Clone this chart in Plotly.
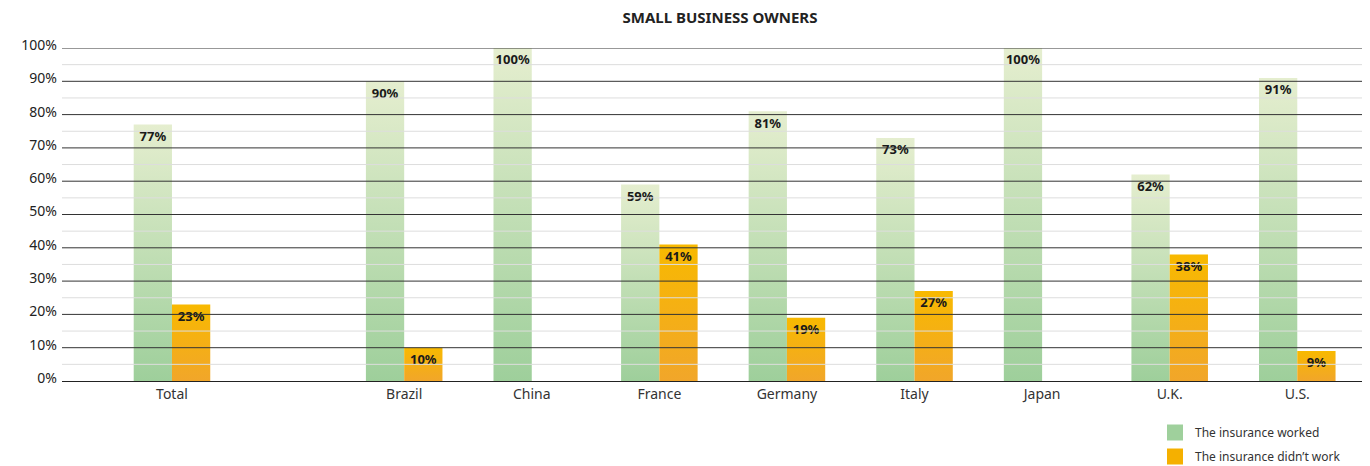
import plotly.graph_objects as go

categories = ["Total", "Brazil", "China", "France", "Germany", "Italy", "Japan", "U.K.", "U.S."]
worked = [77, 90, 100, 59, 81, 73, 100, 62, 91]
didnt_work = [23, 10, 0, 41, 19, 27, 0, 38, 9]
y_ticks = [0, 10, 20, 30, 40, 50, 60, 70, 80, 90, 100]
y_tick_labels = [f"{v}%" for v in y_ticks]
series_names = ["The insurance worked", "The insurance didn\u2019t work"]
title_text = "SMALL BUSINESS OWNERS"

# layout constants (page body has an 8px default margin)
W, H = 1362, 458
ML, MT, MB, MR = 54, 40, 85, 0
PLOT_H = H - MT - MB
GAP_AFTER_TOTAL = 1.82
BAR_W = 0.3
LABEL_OFFSET = 13 * 100 / PLOT_H  # ~13 px below bar top, in axis units
positions = [0.0] + [GAP_AFTER_TOTAL + i for i in range(len(categories) - 1)]

GREEN_SCALE = [[0, "#9ecf9b"], [1, "#e5eecf"]]
ORANGE_SCALE = [[0, "#f1a62a"], [1, "#f8b900"]]
FONT = "Noto Sans"

fig = go.Figure()


def add_bars(values, offset, scale, group, name):
    for p, v in zip(positions, values):
        if v <= 0:
            continue
        x0, x1 = p + offset, p + offset + BAR_W
        fig.add_trace(go.Scatter(
            x=[x0, x1, x1, x0, x0], y=[0, 0, v, v, 0],
            mode="none", fill="toself",
            fillgradient=dict(type="vertical", colorscale=scale, start=0, stop=v),
            showlegend=False, legendgroup=group, hoverinfo="skip",
        ))
    xs = [p + offset + BAR_W / 2 for p, v in zip(positions, values) if v > 0]
    ys = [v for v in values if v > 0]
    fig.add_trace(go.Scatter(
        x=xs, y=[v - LABEL_OFFSET for v in ys], mode="text",
        text=[f"{v}%" for v in ys], customdata=ys,
        textposition="middle center",
        textfont=dict(family=FONT, size=13, color="#1a1a1a", weight="bold"),
        showlegend=False, legendgroup=group,
        hovertemplate=name + ": %{customdata}%<extra></extra>",
    ))


add_bars(worked, -BAR_W, GREEN_SCALE, "worked", series_names[0])
add_bars(didnt_work, 0.0, ORANGE_SCALE, "didnt", series_names[1])

# legend entries
fig.add_trace(go.Scatter(x=[None], y=[None], mode="markers", name=series_names[0],
                         legendgroup="worked",
                         marker=dict(symbol="square", size=18, color="#9fd09c")))
fig.add_trace(go.Scatter(x=[None], y=[None], mode="markers", name=series_names[1],
                         legendgroup="didnt",
                         marker=dict(symbol="square", size=18, color="#f5b000")))

# gridlines above bars
shapes = []
for v in range(5, 100, 10):
    shapes.append(dict(type="line", xref="paper", yref="y", x0=0, x1=1, y0=v, y1=v,
                       line=dict(color="#dddddd", width=1), layer="above"))
for v in y_ticks[1:]:
    shapes.append(dict(type="line", xref="paper", yref="y", x0=0, x1=1, y0=v, y1=v,
                       line=dict(color="#333333", width=1), layer="above"))

fig.update_layout(
    width=W, height=H,
    margin=dict(l=ML, r=MR, t=MT, b=MB, autoexpand=False),
    paper_bgcolor="white", plot_bgcolor="white",
    font=dict(family=FONT, color="#222222"),
    title=dict(text=f"<b>{title_text}</b>", x=712 / W, xanchor="center",
               y=1 - 10 / H, yanchor="middle", xref="container", yref="container",
               font=dict(family=FONT, size=15, color="#222222")),
    shapes=shapes,
    showlegend=True,
    legend=dict(xref="container", yref="container",
                x=1147 / W, y=1 - 410 / H, xanchor="left", yanchor="top",
                tracegroupgap=5,
                font=dict(family=FONT, size=12, color="#333333"),
                bgcolor="rgba(0,0,0,0)", itemclick=False, itemdoubleclick=False),
    xaxis=dict(range=[-0.862, 9.39], tickvals=positions, ticktext=categories,
               showgrid=False, zeroline=False, showline=True, linecolor="#222222",
               linewidth=1, ticks="", automargin=False,
               tickfont=dict(family=FONT, size=14, color="#333333"), fixedrange=True),
    yaxis=dict(range=[0, 100], tickmode="array", tickvals=y_ticks, ticktext=y_tick_labels,
               showgrid=False, zeroline=False, showline=False, ticks="", automargin=False,
               ticklabelshift=-3, ticklabelstandoff=4,
               tickfont=dict(family=FONT, size=14, color="#222222"), fixedrange=True),
)

fig.write_html("out.html")
